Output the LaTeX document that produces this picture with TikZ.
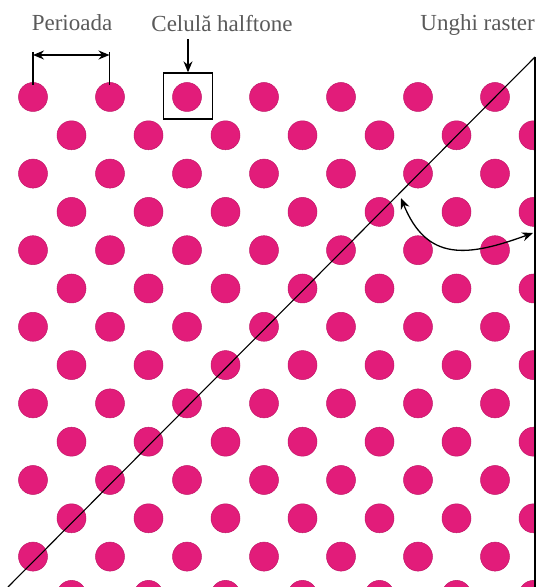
\documentclass[tikz,border=0pt]{standalone}
\usepackage{fontspec}
\setmainfont{Liberation Serif}
\usetikzlibrary{arrows.meta,positioning}
\definecolor{dotpink}{RGB}{226,28,122}
\definecolor{lblgray}{RGB}{90,90,90}

\begin{document}
\begin{tikzpicture}[x=1pt,y=1pt,>={Stealth[length=11pt,width=9pt]},
  lbl/.style={text=lblgray,font=\fontsize{23}{26}\selectfont,inner sep=0pt},
  dot/.style={fill=dotpink,draw=dotpink!85!black,line width=0.5pt},
  ln/.style={line width=1.3pt}]
\useasboundingbox (0,0) rectangle (542,587);

\begin{scope}
\clip (0,0) rectangle (535,587);
\foreach \j in {0,...,13} {
  \pgfmathsetmacro{\xo}{mod(\j,2)*38.5}
  \foreach \k in {0,...,6}
    \path[dot] ({33+\xo+77*\k},{490-38.3*\j}) circle (14.5);
}
\end{scope}

\node[lbl,anchor=base] (PER) at (72,556) {Perioada};
\node[lbl,anchor=base] (CEL) at (222,555) {Celulă halftone};
\node[lbl,anchor=base east] (UNG) at (535,556) {Unghi raster};

\coordinate (PA) at (33,535);
\coordinate (PB) at (109.5,535);
\draw[ln] (PA) -- ++(0,-33);
\draw[ln] (PB) -- ++(0,-33);
\draw[ln,<->] ([yshift=-3]PA) -- ([yshift=-3]PB);

\node[draw,ln,minimum width=49,minimum height=46,inner sep=0pt] (CELL) at (188,491) {};
\draw[ln,->] ([yshift=33]CELL.north) -- (CELL.north);

\coordinate (APEX) at (535,530);
\coordinate (BOT) at (535,0);
\coordinate (DIAG) at (8,0);
\draw[line width=1.5pt] (APEX) -- (BOT);
\draw[line width=1.1pt] (APEX) -- (DIAG);

\coordinate (A1) at (401,389);
\coordinate (A2) at (533,354);
\draw[ln,<->] (A1) to[out=-68,in=200,looseness=1.3] (A2);
\end{tikzpicture}
\end{document}
